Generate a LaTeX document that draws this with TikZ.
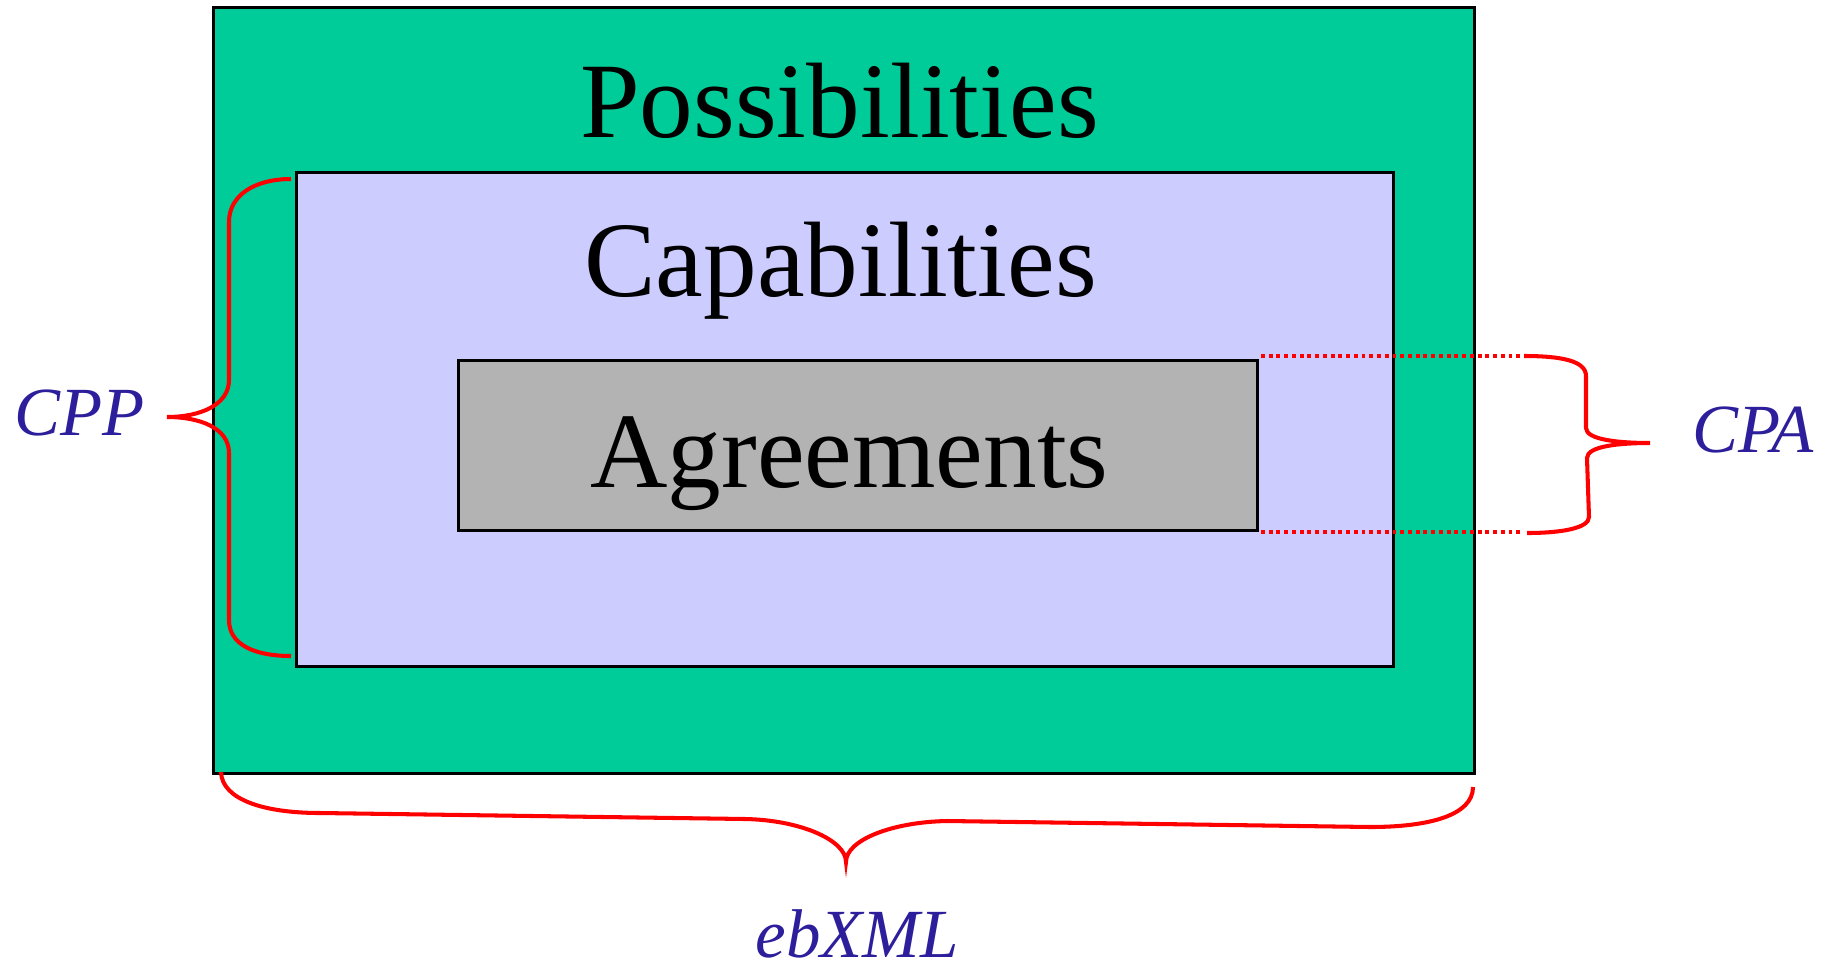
\documentclass[tikz,border=0pt]{standalone}
\usepackage{fontspec}
\setmainfont{Liberation Serif}
\definecolor{boxgreen}{RGB}{0,204,153}
\definecolor{boxlav}{RGB}{204,204,255}
\definecolor{boxgray}{RGB}{179,179,179}
\definecolor{lblue}{RGB}{45,30,155}
\begin{document}
\begin{tikzpicture}[x=0.01cm,y=-0.01cm,
  boxstyle/.style={draw=black, line width=0.85pt, inner sep=0, outer sep=0},
  bigtext/.style={font=\fontsize{30.5}{36}\selectfont, inner sep=0, anchor=base},
  lab/.style={font=\fontsize{19.6}{24}\selectfont\itshape, text=lblue, inner sep=0, anchor=base},
  brace/.style={draw=red, line width=1.15pt},
  dotline/.style={draw=red, line width=1.05pt, dash pattern=on 1.1pt off 1.1pt}]
\useasboundingbox (0,0) rectangle (1832,969);
\node[boxstyle, fill=boxgreen, minimum width=12.6cm, minimum height=7.65cm] (poss) at (844,390.5) {};
\node[boxstyle, fill=boxlav, minimum width=10.96cm, minimum height=4.93cm] (cap) at (845,419.5) {};
\node[boxstyle, fill=boxgray, minimum width=7.98cm, minimum height=1.69cm] (agr) at (858,445.5) {};
\node[bigtext] (posst) at (839.5,137) {Possibilities};
\node[bigtext] (capt) at (840.5,296) {Capabilities};
\node[bigtext] (agrt) at (849.5,487) {Agreements};
\node[lab] (cpp) at (80,435) {CPP};
\node[lab] (cpa) at (1753,452) {CPA};
\node[lab] (ebxml) at (857,957) {ebXML};
% CPP brace
\draw[brace] (291,179) .. controls (255,179) and (229,195) .. (229,222) -- (229,380)
  .. controls (229,405) and (200,417) .. (167,417)
  .. controls (200,417) and (229,428) .. (229,453) -- (229,620)
  .. controls (229,645) and (255,656) .. (291,656);
% CPA dotted guides
\coordinate (d1a) at (1261,356);
\coordinate (d1b) at (1523,356);
\coordinate (d2a) at (1261,532);
\coordinate (d2b) at (1523,532);
\draw[dotline] (d1a) -- (d1b);
\draw[dotline] (d2a) -- (d2b);
% CPA brace
\draw[brace] (1524,356) .. controls (1562,356) and (1586,361) .. (1586,376) -- (1586,428)
  .. controls (1586,440) and (1620,443) .. (1650,443)
  .. controls (1620,443) and (1587,446) .. (1587,458) -- (1589,517)
  .. controls (1589,528) and (1562,533) .. (1527,533);
% ebXML brace
\draw[brace] (221,772) .. controls (222,800) and (265,813) .. (320,813) -- (745,819)
  .. controls (800,820) and (846,840) .. (846,862)
  .. controls (846,840) and (892,822) .. (947,821) -- (1370,827)
  .. controls (1430,827) and (1473,815) .. (1473,787);
\end{tikzpicture}
\end{document}
